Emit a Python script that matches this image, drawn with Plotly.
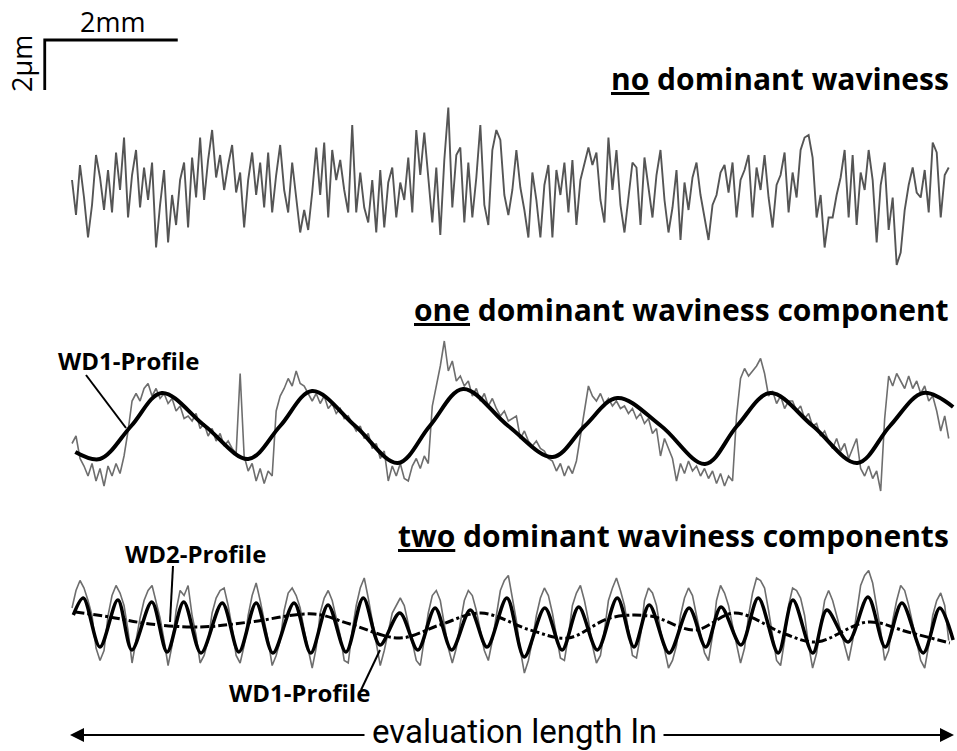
import numpy as np
import plotly.graph_objects as go

# ---------------- data (x in mm, heights in micrometres) ----------------
STEP_MM = 0.0602  # sampling interval of the traced rough profiles

rough_none = [
    0.2, -1.2, 0.8, -0.5, -2.1, -0.8, 1.2, 0.3, -1.0, 0.6,
    -1.1, 1.3, -0.2, 1.9, -1.3, 0.4, 1.4, -0.9, 0.7, -0.6,
    0.9, -2.5, -0.8, 0.6, -2.3, -0.4, -1.6, 0.2, 0.9, -1.7,
    1.1, -0.5, 1.9, -0.6, 1.0, 2.2, 0.3, 1.2, -0.2, 0.8,
    1.6, -0.3, 0.5, -1.7, 0.2, 1.3, -0.4, 0.9, -0.9, 1.3,
    -1.1, 0.4, 1.6, -0.2, -1.1, 0.9, -0.5, -1.9, -1.0, -1.8,
    -0.3, 1.5, -0.4, 1.7, -1.3, 1.4, 0.2, 1.0, -0.2, -1.1,
    2.4, -1.1, 0.5, -0.9, -1.5, 0.2, -1.9, 0.6, -1.7, 0.1,
    0.7, -1.3, 0.1, -0.6, 1.1, -1.1, 2.2, 0.4, 2.1, 0.3,
    -1.5, 0.7, -2.0, 1.0, 3.1, -0.9, 1.2, 1.5, -1.5, 0.9,
    -1.3, 0.3, 2.4, -0.8, -1.6, 1.4, 2.2, 1.8, -0.4, -1.2,
    -0.2, 1.4, -0.1, -1.0, -2.1, 0.5, -0.6, -2.1, 0.0, 0.8,
    -2.1, 0.6, -0.4, 0.9, -1.1, 1.0, -1.6, 0.2, 0.9, 1.5,
    0.8, 1.3, -0.6, -1.5, 1.9, -0.2, 1.4, -0.8, -1.9, -0.5,
    0.9, 0.7, -1.6, 1.1, -0.2, -1.3, 0.4, 1.4, -0.6, -1.9,
    -0.9, 0.6, -2.2, 0.1, -1.0, 0.3, 0.9, -0.4, -1.3, -2.2,
    -0.8, -0.4, 0.5, 0.8, -0.3, 0.9, -1.3, 0.2, 0.6, 1.2,
    -1.3, 0.7, -0.2, 1.2, -0.5, -1.7, 0.0, 0.4, 1.3, -1.1,
    0.5, -0.5, 1.4, 1.9, 2.0, 1.1, -1.3, -0.4, -2.5, -1.3,
    -1.3, -0.4, 0.3, 1.4, -1.3, 1.2, -1.6, 0.5, -0.2, 1.4,
    0.2, -2.3, 0.0, 0.9, -1.8, -0.5, -3.2, -2.7, -1.0, 0.0,
    0.7, -0.3, -0.5, 0.6, -1.1, 1.7, 1.3, -1.3, 0.4, 0.7,
]

rough_one = [
    -0.7, -0.4, -1.3, -1.6, -2.0, -1.5, -2.2, -1.7, -2.4, -1.6,
    -2.0, -1.5, -1.9, -1.2, -0.2, 1.0, 1.3, 1.0, 1.5, 1.7,
    1.2, 1.5, 1.1, 1.3, 0.9, 1.1, 0.6, 0.8, 0.3, 0.4,
    0.2, 0.5, -0.1, 0.1, -0.4, -0.1, -0.6, -0.3, -0.8, -0.6,
    -0.9, -1.1, 2.1, -1.2, -1.8, -1.5, -2.2, -1.7, -2.3, -1.8,
    -2.0, 0.6, 1.2, 1.5, 1.9, 1.6, 2.2, 1.7, 1.6, 1.3,
    1.0, 1.3, 0.9, 1.2, 0.7, 0.9, 0.5, 0.7, 0.3, 0.4,
    0.1, -0.2, 0.0, -0.5, -0.3, -0.9, -0.7, -1.3, -1.0, -2.2,
    -1.6, -2.0, -1.5, -2.1, -2.2, -1.6, -1.3, -1.7, -1.2, -1.5,
    0.8, 1.6, 2.4, 3.4, 2.2, 2.6, 1.8, 2.0, 1.6, 1.8,
    1.2, 1.5, 1.0, 1.3, 0.8, 1.1, 0.7, 0.4, 0.6, 0.2,
    0.3, 0.4, -0.5, -0.2, -0.6, -0.8, -0.6, -0.9, -1.0, -1.3,
    -1.4, -1.8, -1.5, -2.0, -1.6, -1.9, -1.4, -0.4, 0.6, 1.6,
    1.2, 1.0, 1.3, 0.9, 1.1, 0.8, 1.0, 0.7, 0.8, 0.5,
    0.7, 0.3, 0.5, 0.1, 0.3, -0.3, -0.1, -1.2, -0.5, -0.9,
    -1.3, -2.2, -1.5, -1.9, -1.4, -1.8, -1.6, -2.0, -1.7, -2.1,
    -1.8, -2.3, -1.9, -2.4, -2.0, -2.2, 0.4, 1.9, 2.3, 2.0,
    2.2, 2.4, 2.7, 2.1, 1.2, 1.4, 0.9, 1.2, 0.7, 1.0,
    1.0, 0.6, 0.8, 0.3, 0.5, 0.0, 0.1, -0.4, -0.2, -0.6,
    -0.9, -0.5, -1.0, -0.7, -1.3, -0.9, -0.5, -1.7, -2.0, -1.6,
    -2.1, -1.8, -2.6, 0.3, 2.0, 1.6, 2.1, 1.8, 1.5, 2.0,
    1.5, 1.8, 1.3, 1.6, 1.0, 1.2, 0.6, -0.2, 0.4, -0.5,
]

rough_two = [
    0.8, 1.5, 1.9, 1.6, 1.1, 0.5, -0.8, -1.3, -0.9, 0.5,
    1.3, 1.7, 1.4, 0.9, -0.1, -1.4, -0.5, 0.4, 1.1, 1.5,
    1.7, 1.1, 0.4, -0.5, -1.5, -0.7, 0.7, 1.5, 1.3, 1.7,
    0.5, -0.3, -1.4, -1.1, -0.5, 0.6, 1.2, 1.5, 1.6, 0.9,
    0.0, -1.1, -1.4, -0.7, 0.5, 1.3, 1.8, 1.1, 0.3, -0.5,
    -1.5, -1.1, -0.5, 0.7, 1.4, 1.6, 1.3, 0.8, -0.1, -0.9,
    -1.6, -0.8, 0.6, 1.2, 1.5, 1.1, 0.4, -0.3, -1.3, -1.4,
    -0.1, 0.9, 1.6, 2.0, 1.2, 0.3, -0.7, -1.5, -0.9, -0.2,
    0.6, 0.9, 1.2, 0.9, 0.2, -0.5, -1.3, -1.5, -0.5, 0.6,
    1.3, 1.5, 1.1, 0.1, -0.8, -1.4, -0.8, 0.2, 1.1, 1.5,
    1.3, 0.7, -0.1, -0.9, -1.3, -0.5, 0.5, 1.5, 1.9, 2.1,
    1.2, 0.3, -0.9, -1.8, -1.3, -0.5, 0.5, 1.2, 1.6, 1.3,
    0.6, -0.3, -1.2, -1.3, -0.3, 0.9, 1.4, 1.7, 1.1, 0.3,
    -0.7, -1.4, -1.1, -0.1, 1.1, 1.6, 2.0, 1.5, 0.9, -0.1,
    -1.1, -1.2, -0.3, 1.1, 1.6, 1.4, 0.9, -0.1, -0.9, -1.6,
    -1.3, -0.7, 0.5, 1.2, 1.6, 1.3, 0.5, -0.3, -1.0, -1.3,
    -0.3, 1.1, 1.7, 1.4, 0.9, 0.1, -0.7, -1.4, -0.8, 0.5,
    1.4, 2.0, 1.9, 1.6, 0.7, -0.3, -1.3, -1.5, -0.5, 0.9,
    1.6, 1.5, 1.2, 0.5, -0.7, -1.6, -1.0, 0.1, 1.1, 1.5,
    1.1, 0.5, -0.1, -0.7, -1.3, -0.5, 0.7, 1.7, 2.1, 2.3,
    1.8, 0.9, -0.1, -1.3, -0.9, 0.3, 1.1, 1.7, 1.5, 0.9,
    0.2, -0.5, -1.3, -1.6, -0.7, 0.5, 1.1, 1.4, 0.9, -0.5,
]

# WD1 waviness profile of the "one component" surface (extremes and crossings)
wd1_one_x = [0.05, 0.42, 0.89, 1.35, 2.00, 2.65, 3.13, 3.61, 4.26, 4.90, 5.38, 5.88, 6.56,
             7.23, 7.71, 8.20, 8.86, 9.52, 10.00, 10.50, 11.14, 11.81, 12.30, 12.80, 13.25]
wd1_one_z = [-1.04, -1.32, 0.0, 1.32, 0.0, -1.32, 0.0, 1.40, 0.0, -1.48, 0.0, 1.48, 0.0,
             -1.24, 0.0, 1.12, 0.0, -1.52, 0.0, 1.32, 0.0, -1.48, 0.0, 1.32, 0.76]

# WD1 waviness profile of the "two components" surface
wd1_two_x = [0.02, 0.17, 0.42, 0.69, 0.90, 1.20, 1.43, 1.68, 1.94, 2.26, 2.51, 2.77, 3.02,
             3.34, 3.59, 3.85, 4.12, 4.38, 4.63, 4.93, 5.20, 5.46, 5.71, 5.99, 6.24, 6.54,
             6.80, 7.11, 7.37, 7.62, 7.90, 8.20, 8.45, 8.68, 8.98, 9.28, 9.53, 9.76, 10.06,
             10.32, 10.62, 10.84, 11.14, 11.35, 11.67, 11.97, 12.23, 12.48, 12.80, 13.05, 13.25]
wd1_two_z = [0.52, 1.20, -0.76, 1.12, -0.88, 1.04, -0.96, 1.04, -1.00, 1.00, -0.96, 1.00, -1.00,
             1.00, -1.00, 0.92, -0.96, 1.20, -0.68, 0.60, -0.88, 0.80, -0.88, 0.72, -0.76, 1.20,
             -1.16, 0.80, -0.88, 0.84, -0.88, 1.20, -0.76, 0.92, -1.00, 0.80, -0.76, 0.84, -0.68,
             1.20, -1.00, 1.12, -1.00, 0.72, -0.56, 1.24, -0.76, 1.00, -1.00, 0.80, -0.48]

# WD2 waviness profile of the "two components" surface
wd2_two_x = [0.05, 0.57, 1.17, 1.93, 2.68, 3.64, 4.18, 4.93, 5.53, 6.15, 6.89,
             7.46, 8.09, 8.69, 9.37, 9.97, 10.72, 11.19, 11.97, 12.57, 13.20]
wd2_two_z = [0.64, 0.44, 0.16, 0.04, 0.24, 0.56, 0.16, -0.40, 0.12, 0.60, -0.08,
             -0.40, 0.40, 0.48, -0.08, 0.60, -0.24, -0.56, 0.24, -0.16, -0.60]

SCALE_MM = 2.0   # horizontal scale bar
SCALE_UM = 2.0   # vertical scale bar

titles = ["<u>no</u> dominant waviness",
          "<u>one</u> dominant waviness component",
          "<u>two</u> dominant waviness components"]
labels = ["WD1-Profile", "WD2-Profile", "WD1-Profile"]
length_label = "evaluation length ln"

# ---------------- figure ----------------
W, H = 957, 751


def px(x):
    return x / W


def py(y):
    return 1 - y / H


x_rough = np.arange(len(rough_none)) * STEP_MM
GREY = "#6e6e6e"

fig = go.Figure()
fig.add_trace(go.Scatter(x=x_rough, y=rough_none, mode="lines",
                         line=dict(color="#555555", width=1.9), yaxis="y"))
fig.add_trace(go.Scatter(x=x_rough, y=rough_one, mode="lines",
                         line=dict(color=GREY, width=1.6), yaxis="y2"))
fig.add_trace(go.Scatter(x=wd1_one_x, y=wd1_one_z, mode="lines",
                         line=dict(color="black", width=4, shape="spline", smoothing=1.0),
                         yaxis="y2"))
fig.add_trace(go.Scatter(x=x_rough, y=rough_two, mode="lines",
                         line=dict(color=GREY, width=1.6), yaxis="y3"))
fig.add_trace(go.Scatter(x=wd2_two_x, y=wd2_two_z, mode="lines",
                         line=dict(color="black", width=3, dash="dashdot", shape="spline"),
                         yaxis="y3"))
fig.add_trace(go.Scatter(x=wd1_two_x, y=wd1_two_z, mode="lines",
                         line=dict(color="black", width=3.5, shape="spline", smoothing=0.9),
                         yaxis="y3"))

# scale bar drawn in data units on the first axis
sb_x0, sb_y0 = -0.41, 5.8
fig.add_trace(go.Scatter(x=[sb_x0 + SCALE_MM, sb_x0, sb_x0],
                         y=[sb_y0, sb_y0, sb_y0 - SCALE_UM], mode="lines",
                         line=dict(color="black", width=2.8), yaxis="y"))

PX_PER_MM = 66.5
PX_PER_UM = 25.0
x0_px = 72


def yband(top, bottom, center):
    return dict(domain=[py(bottom), py(top)],
                range=[-(bottom - center) / PX_PER_UM, (center - top) / PX_PER_UM],
                visible=False, fixedrange=True)


fig.update_layout(
    width=W, height=H,
    margin=dict(l=0, r=0, t=0, b=0),
    paper_bgcolor="white", plot_bgcolor="white",
    showlegend=False,
    xaxis=dict(range=[-x0_px / PX_PER_MM, (W - x0_px) / PX_PER_MM], visible=False),
    yaxis=yband(0, 300, 185),
    yaxis2=yband(300, 500, 426),
    yaxis3=yband(500, 751, 628),
)

TFONT = dict(family="Open Sans, DejaVu Sans, sans-serif", size=30, color="black")
LFONT = dict(family="Open Sans, DejaVu Sans, sans-serif", size=24, color="black")
RFONT = dict(family="Open Sans, DejaVu Sans, sans-serif", size=27, color="black")

ann = []
for t, yc in zip(titles, [79, 310, 535]):
    ann.append(dict(text="<b>" + t + "</b>", x=px(951), y=py(yc), xref="paper", yref="paper",
                    xanchor="right", yanchor="middle", showarrow=False, font=TFONT))
for t, (xc, yc) in zip(labels, [(128, 360), (195, 553), (299, 692)]):
    ann.append(dict(text="<b>" + t + "</b>", x=px(xc), y=py(yc), xref="paper", yref="paper",
                    xanchor="center", yanchor="middle", showarrow=False, font=LFONT))
ann.append(dict(text="2mm", x=px(112), y=py(21), xref="paper", yref="paper",
                xanchor="center", yanchor="middle", showarrow=False, font=RFONT))
ann.append(dict(text="2µm", x=px(21), y=py(64), xref="paper", yref="paper", textangle=-90,
                xanchor="center", yanchor="middle", showarrow=False, font=RFONT))
ann.append(dict(text=length_label, x=px(514), y=py(731), xref="paper", yref="paper",
                xanchor="center", yanchor="middle", showarrow=False,
                font=dict(family="Roboto, sans-serif", size=33, color="black")))
for tail, head in [(366, 70), (662, 954)]:
    ann.append(dict(text="", x=px(head), y=py(735), ax=tail - head, ay=0,
                    xref="paper", yref="paper", axref="pixel", ayref="pixel",
                    showarrow=True, arrowhead=2, arrowsize=1.4, arrowwidth=2, arrowcolor="black"))
fig.update_layout(annotations=ann)

shapes = []
for (x0, y0, x1, y1) in [(86, 375, 126, 428), (173, 566, 170, 622), (380, 650, 361, 690)]:
    shapes.append(dict(type="line", xref="paper", yref="paper",
                       x0=px(x0), y0=py(y0), x1=px(x1), y1=py(y1),
                       line=dict(color="black", width=2)))
fig.update_layout(shapes=shapes)

fig.write_html("out.html")
